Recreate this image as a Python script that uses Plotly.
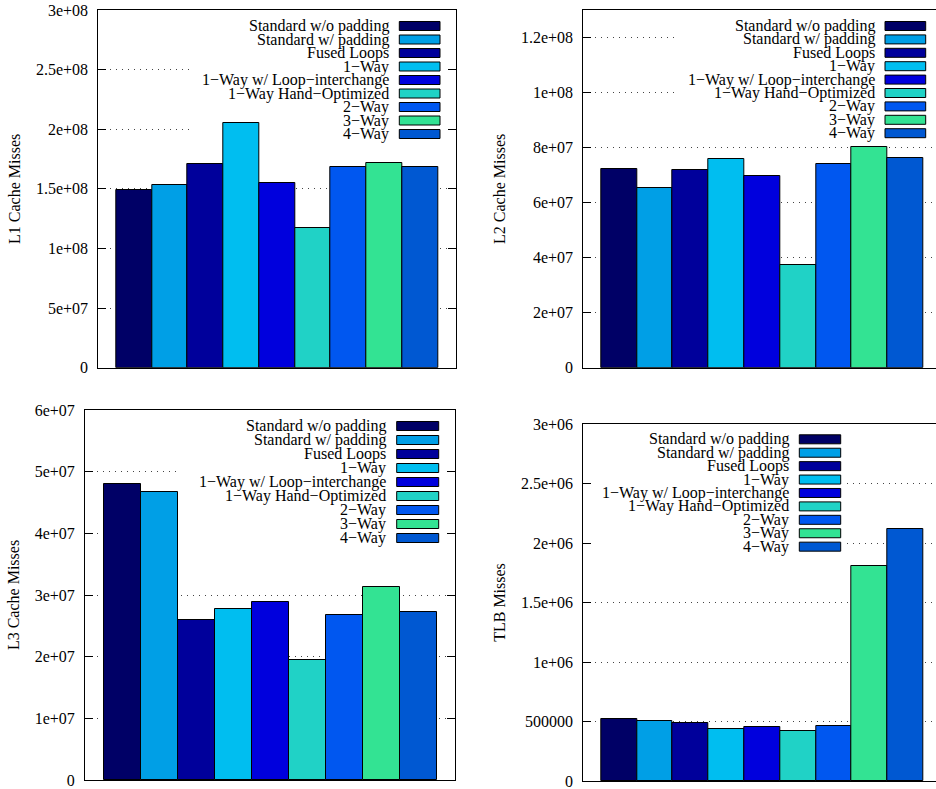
import plotly.graph_objects as go

W, H = 936, 789
FONT = "Liberation Serif"

# ---------------- data ----------------
series = ["Standard w/o padding", "Standard w/ padding", "Fused Loops", "1\u2212Way",
          "1\u2212Way w/ Loop\u2212interchange", "1\u2212Way Hand\u2212Optimized",
          "2\u2212Way", "3\u2212Way", "4\u2212Way"]
colors = ["#000066", "#009fe6", "#00009b", "#00bef0", "#0000dd",
          "#20d2c6", "#0057f0", "#33e393", "#0058d2"]

l1_misses = [1.488e8, 1.530e8, 1.706e8, 2.055e8, 1.547e8, 1.172e8, 1.681e8, 1.714e8, 1.683e8]
l2_misses = [7.22e7, 6.52e7, 7.18e7, 7.58e7, 6.95e7, 3.72e7, 7.42e7, 8.03e7, 7.63e7]
l3_misses = [4.80e7, 4.67e7, 2.60e7, 2.77e7, 2.88e7, 1.94e7, 2.67e7, 3.13e7, 2.73e7]
tlb_misses = [5.18e5, 5.07e5, 4.85e5, 4.34e5, 4.57e5, 4.17e5, 4.59e5, 1.804e6, 2.12e6]

l1_ticks = [0, 5e7, 1e8, 1.5e8, 2e8, 2.5e8, 3e8]
l1_labels = ["0", "5e+07", "1e+08", "1.5e+08", "2e+08", "2.5e+08", "3e+08"]
l2_ticks = [0, 2e7, 4e7, 6e7, 8e7, 1e8, 1.2e8]
l2_labels = ["0", "2e+07", "4e+07", "6e+07", "8e+07", "1e+08", "1.2e+08"]
l3_ticks = [0, 1e7, 2e7, 3e7, 4e7, 5e7, 6e7]
l3_labels = ["0", "1e+07", "2e+07", "3e+07", "4e+07", "5e+07", "6e+07"]
tlb_ticks = [0, 5e5, 1e6, 1.5e6, 2e6, 2.5e6, 3e6]
tlb_labels = ["0", "500000", "1e+06", "1.5e+06", "2e+06", "2.5e+06", "3e+06"]

# ---------------- layout of panels (pixels) ----------------
# box = (left, right, top, bottom); right panels' frame runs past the page edge
panels = [
    dict(vals=l1_misses, title="L1 Cache Misses", tv=l1_ticks, tt=l1_labels, ymax=3e8,
         box=(98.3, 455.7, 10, 367.7),
         leg=dict(tr=391.3, s0=399.3, s1=440, r0=26, dy=13.5, reg=(190, 448, 16, 141))),
    dict(vals=l2_misses, title="L2 Cache Misses", tv=l2_ticks, tt=l2_labels, ymax=1.3e8,
         box=(583.3, 941, 10, 367.7),
         leg=dict(tr=876.7, s0=885, s1=925.7, r0=26, dy=13.4, reg=(675, 936, 16, 141))),
    dict(vals=l3_misses, title="L3 Cache Misses", tv=l3_ticks, tt=l3_labels, ymax=6e7,
         box=(85, 455, 410, 780),
         leg=dict(tr=388.3, s0=396.7, s1=438.7, r0=426, dy=14.0, reg=(180, 447, 416, 546))),
    dict(vals=tlb_misses, title="TLB Misses", tv=tlb_ticks, tt=tlb_labels, ymax=3e6,
         box=(583.3, 941, 424, 781),
         leg=dict(tr=791, s0=799.3, s1=840.7, r0=439.3, dy=13.42, reg=(586, 846, 429, 555))),
]
XR0, NSLOT = -1, 10

fig = go.Figure()
shapes, annotations = [], []
layout = {}
extra = 5

for n, p in enumerate(panels, start=1):
    sfx = "" if n == 1 else str(n)
    xa, ya = "x" + sfx, "y" + sfx
    x0, x1full, y0, y1 = p["box"]
    x1 = min(x1full, W)
    unit = (x1full - x0) / NSLOT
    xr = [XR0, XR0 + (x1 - x0) / unit]
    cut = x1full > W

    fig.add_trace(go.Bar(
        x=series, y=p["vals"], name=p["title"], xaxis=xa, yaxis=ya,
        marker=dict(color=colors, line=dict(color="black", width=1)),
        showlegend=False,
    ))

    layout["xaxis" + sfx] = dict(
        domain=[x0 / W, x1 / W], anchor=ya, range=xr, type="category",
        showticklabels=False, ticks="", showgrid=False, zeroline=False,
        showline=True, linecolor="black", linewidth=1, mirror=True,
        automargin=False,
    )
    ydom = [1 - y1 / H, 1 - y0 / H]
    layout["yaxis" + sfx] = dict(
        domain=ydom, anchor=xa, range=[0, p["ymax"]],
        tickmode="array", tickvals=p["tv"], ticktext=p["tt"],
        ticks="inside", ticklen=8, tickcolor="black", tickwidth=1,
        showline=True, linecolor="black", linewidth=1,
        mirror=False if cut else "ticks",
        showgrid=True, gridcolor="#444444", gridwidth=1, griddash="1px,5px",
        zeroline=False, ticklabelstandoff=6, automargin=False,
        ticklabeloverflow="allow",
        tickfont=dict(family=FONT, size=16, color="black"),
        title=dict(text=p["title"], font=dict(family=FONT, size=16, color="black"), standoff=11),
    )
    if cut:
        # right-hand frame lies beyond the page: only the inner ends of its ticks show
        layout["yaxis" + str(extra)] = dict(
            overlaying=ya, side="right", anchor=xa, range=[0, p["ymax"]],
            tickmode="array", tickvals=p["tv"], showticklabels=False,
            ticks="inside", ticklen=int(round(8 - (x1full - x1))) + 1, tickcolor="black",
            showline=False, showgrid=False, zeroline=False, automargin=False,
        )
        extra += 1

    def dx(px, x0=x0, unit=unit):
        return XR0 + (px - x0) / unit

    def dy(py, y0=y0, y1=y1, ymax=p["ymax"]):
        return (y1 - py) / (y1 - y0) * ymax

    lg = p["leg"]
    rx0, rx1, ry0, ry1 = lg["reg"]
    # key area keeps the grid out (as gnuplot does)
    shapes.append(dict(type="rect", xref=xa, yref=ya, layer="between",
                       x0=dx(rx0), x1=dx(rx1), y0=dy(ry1), y1=dy(ry0),
                       fillcolor="white", line=dict(width=0)))
    for i, (name, col) in enumerate(zip(series, colors)):
        ry = lg["r0"] + i * lg["dy"]
        annotations.append(dict(text=name, xref=xa, yref=ya, x=dx(lg["tr"]), y=dy(ry),
                                xanchor="right", yanchor="middle", showarrow=False,
                                font=dict(family=FONT, size=16, color="black")))
        shapes.append(dict(type="rect", xref=xa, yref=ya, layer="above",
                           x0=dx(lg["s0"]), x1=dx(lg["s1"]), y0=dy(ry + 4.5), y1=dy(ry - 4.5),
                           fillcolor=col, line=dict(color="black", width=1)))

fig.update_layout(
    width=W, height=H, margin=dict(l=0, r=0, t=0, b=0, autoexpand=False),
    paper_bgcolor="white", plot_bgcolor="white",
    bargap=0, showlegend=False,
    font=dict(family=FONT, size=16, color="black"),
    shapes=shapes, annotations=annotations,
    **layout,
)

fig.write_html("out.html", config={"displayModeBar": False},
               post_script="document.body.style.margin='0';document.body.style.overflow='hidden';")
